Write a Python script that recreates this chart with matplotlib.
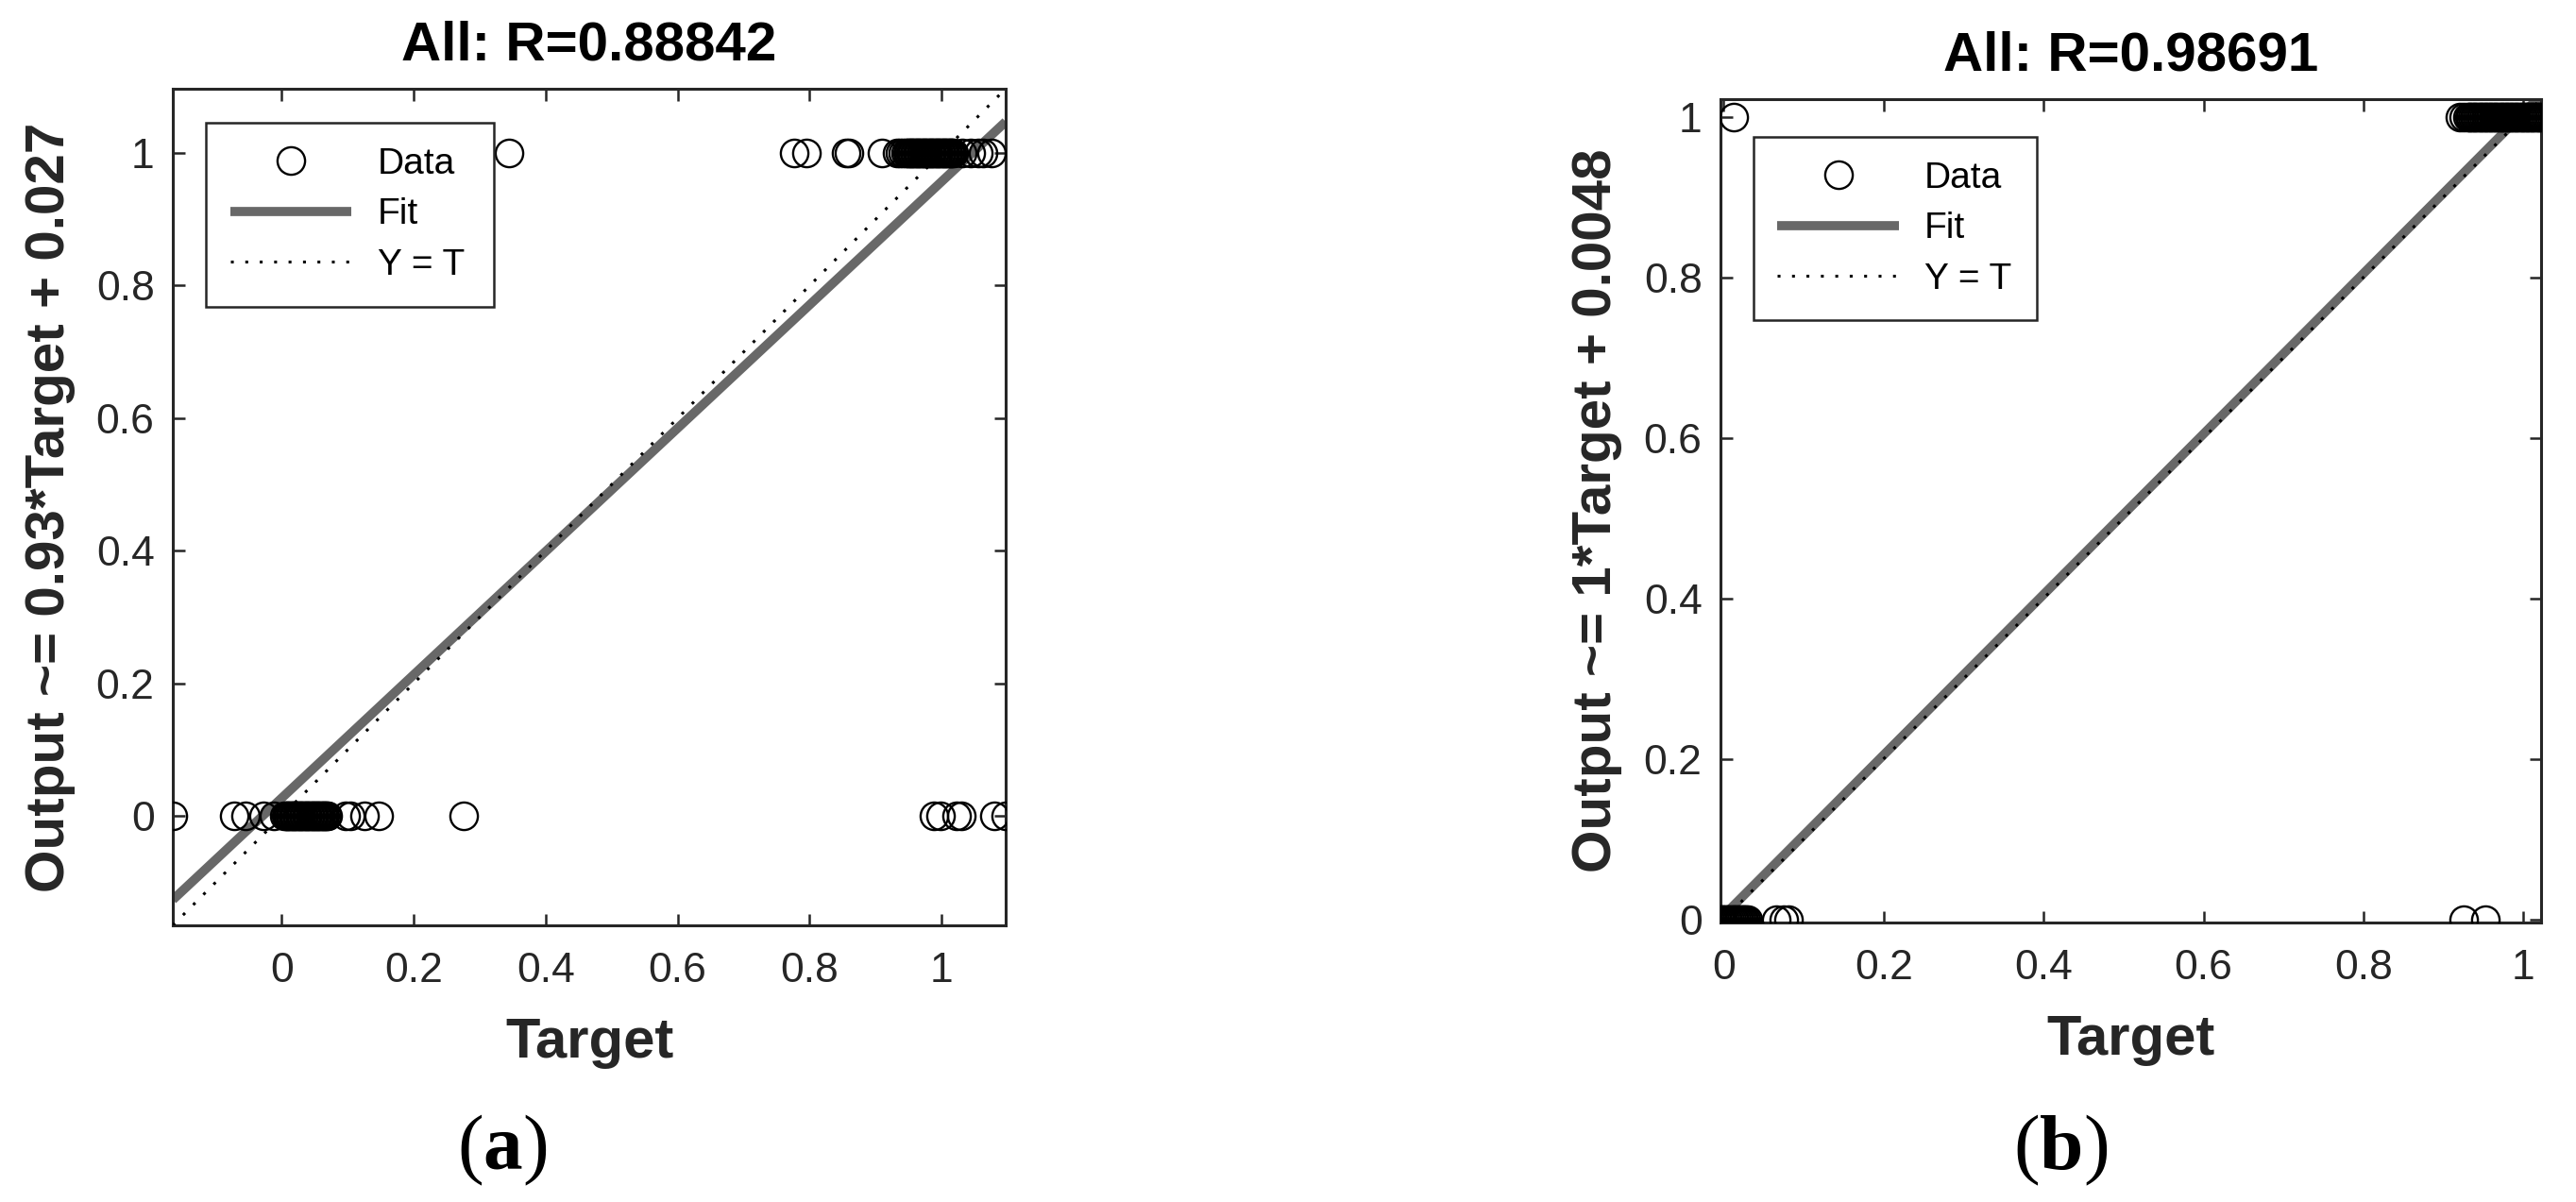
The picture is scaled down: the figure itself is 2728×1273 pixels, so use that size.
import matplotlib
matplotlib.use('Agg')
import matplotlib.pyplot as plt
from matplotlib.ticker import FuncFormatter

plt.rcParams['font.family'] = ['Liberation Sans', 'DejaVu Sans']
plt.rcParams['mathtext.fontset'] = 'custom'
plt.rcParams['mathtext.rm'] = 'Liberation Serif'
plt.rcParams['mathtext.bf'] = 'Liberation Serif:bold'

# ---------------- data ----------------
# Panel (a): targets of samples whose output is 0 / 1
a_targets_out0 = [-0.165, -0.072, -0.055, -0.027, -0.012,
                  0.004, 0.006, 0.008, 0.010, 0.012, 0.014, 0.016, 0.018, 0.020, 0.022,
                  0.024, 0.026, 0.028, 0.030, 0.032, 0.034, 0.036, 0.038, 0.040, 0.042,
                  0.044, 0.046, 0.048, 0.050, 0.052, 0.054, 0.056, 0.058, 0.060, 0.062,
                  0.064, 0.066, 0.068, 0.070,
                  0.097, 0.104, 0.126, 0.147, 0.275,
                  0.988, 0.998, 1.022, 1.030, 1.080, 1.097]
a_targets_out1 = [0.345, 0.776, 0.795, 0.855, 0.860, 0.909, 0.933, 0.937, 0.941,
                  0.946, 0.948, 0.950, 0.952, 0.954, 0.956, 0.958, 0.960, 0.962, 0.964,
                  0.966, 0.968, 0.970, 0.972, 0.974, 0.976, 0.978, 0.980, 0.982, 0.984,
                  0.986, 0.988, 0.990, 0.992, 0.994, 0.996, 0.998, 1.000, 1.002, 1.004,
                  1.006, 1.008, 1.010, 1.012, 1.014, 1.016, 1.018,
                  1.031, 1.044, 1.056, 1.063, 1.076]
a_slope, a_intercept = 0.93, 0.027
a_R = "0.88842"
a_ylabel = "Output ~= 0.93*Target + 0.027"

# Panel (b)
b_targets_out0 = [-0.004, -0.002, 0.000, 0.002, 0.004, 0.006, 0.008, 0.010, 0.012, 0.014,
                  0.016, 0.018, 0.020, 0.022, 0.024, 0.026, 0.028, 0.030,
                  0.066, 0.075, 0.081, 0.925, 0.952]
b_targets_out1 = [0.013, 0.921, 0.925, 0.930, 0.932, 0.934, 0.936, 0.938, 0.940, 0.942,
                  0.944, 0.946, 0.948, 0.950, 0.952, 0.954, 0.956, 0.958, 0.960, 0.962,
                  0.964, 0.966, 0.968, 0.970, 0.972, 0.974, 0.976, 0.978, 0.980, 0.982,
                  0.984, 0.986, 0.988, 0.990, 0.992, 0.994, 0.996, 0.998, 1.000, 1.002,
                  1.004, 1.006, 1.008, 1.010, 1.012, 1.014, 1.016, 1.018, 1.020, 1.022]
b_slope, b_intercept = 1.0, 0.0048
b_R = "0.98691"
b_ylabel = "Output ~= 1*Target + 0.0048"

tick_values = [0, 0.2, 0.4, 0.6, 0.8, 1]
legend_labels = ["Data", "Fit", "Y = T"]
panel_labels = ["a", "b"]

# ---------------- style ----------------
AX_COLOR = '#262626'
FIT_COLOR = '#686868'

fig = plt.figure(figsize=(27.28, 12.73), dpi=100)


def draw_panel(rect, t0, t1, slope, intercept, R, ylabel, leg_anchor):
    ax = fig.add_axes(rect)
    targets = list(t0) + list(t1)
    outputs = [0] * len(t0) + [1] * len(t1)
    lo = min(min(targets), min(outputs))
    hi = max(max(targets), max(outputs))
    lim = [lo, hi]
    fit_line, = ax.plot(lim, [slope * v + intercept for v in lim], color=FIT_COLOR,
                        lw=7, solid_capstyle='butt', zorder=2)
    yt_line, = ax.plot(lim, lim, color='k', lw=2.2, linestyle=(0, (1, 4)), zorder=3)
    data_line, = ax.plot(targets, outputs, 'o', mfc='none', mec='k', ms=21, mew=1.7,
                         zorder=4)
    ax.set_xlim(lim)
    ax.set_ylim(lim)
    ax.set_xticks(tick_values)
    ax.set_yticks(tick_values)
    fmt = FuncFormatter(lambda v, p: f'{v:g}')
    ax.xaxis.set_major_formatter(fmt)
    ax.yaxis.set_major_formatter(fmt)
    ax.tick_params(direction='in', length=9, width=1.8, top=True, right=True,
                   labelsize=32, colors=AX_COLOR)
    ax.tick_params(axis='x', pad=20)
    ax.tick_params(axis='y', pad=14)
    for s in ax.spines.values():
        s.set_linewidth(2.2)
        s.set_color(AX_COLOR)
    ax.set_title(f'All: R={R}', fontsize=42, fontweight='bold', pad=22)
    ax.set_xlabel('Target', fontsize=43, fontweight='bold', color=AX_COLOR, labelpad=20)
    ax.set_ylabel(ylabel, fontsize=42, fontweight='bold', color=AX_COLOR, labelpad=16)
    leg = ax.legend([data_line, fit_line, yt_line], legend_labels, loc='upper left',
                    bbox_to_anchor=leg_anchor, mode='expand', borderaxespad=0,
                    fontsize=28, handlelength=3.3, handletextpad=0.7, labelspacing=0.45,
                    borderpad=0.66, fancybox=False, framealpha=1, edgecolor=AX_COLOR,
                    numpoints=1)
    leg.get_frame().set_linewidth(1.8)
    return ax


draw_panel([0.0671, 0.2302, 0.3233, 0.696], a_targets_out0, a_targets_out1,
           a_slope, a_intercept, a_R, a_ylabel, (0.04, 0.5, 0.345, 0.459))
draw_panel([0.6679, 0.2325, 0.3185, 0.685], b_targets_out0, b_targets_out1,
           b_slope, b_intercept, b_R, b_ylabel, (0.04, 0.5, 0.345, 0.454))

fig.text(532 / 2728, 1 - 1218 / 1273, r'($\mathbf{%s}$)' % panel_labels[0], fontsize=60,
         family='Liberation Serif', ha='center', va='center')
fig.text(2182 / 2728, 1 - 1218 / 1273, r'($\mathbf{%s}$)' % panel_labels[1], fontsize=60,
         family='Liberation Serif', ha='center', va='center')

fig.savefig('out.png', dpi=100, facecolor='white')
